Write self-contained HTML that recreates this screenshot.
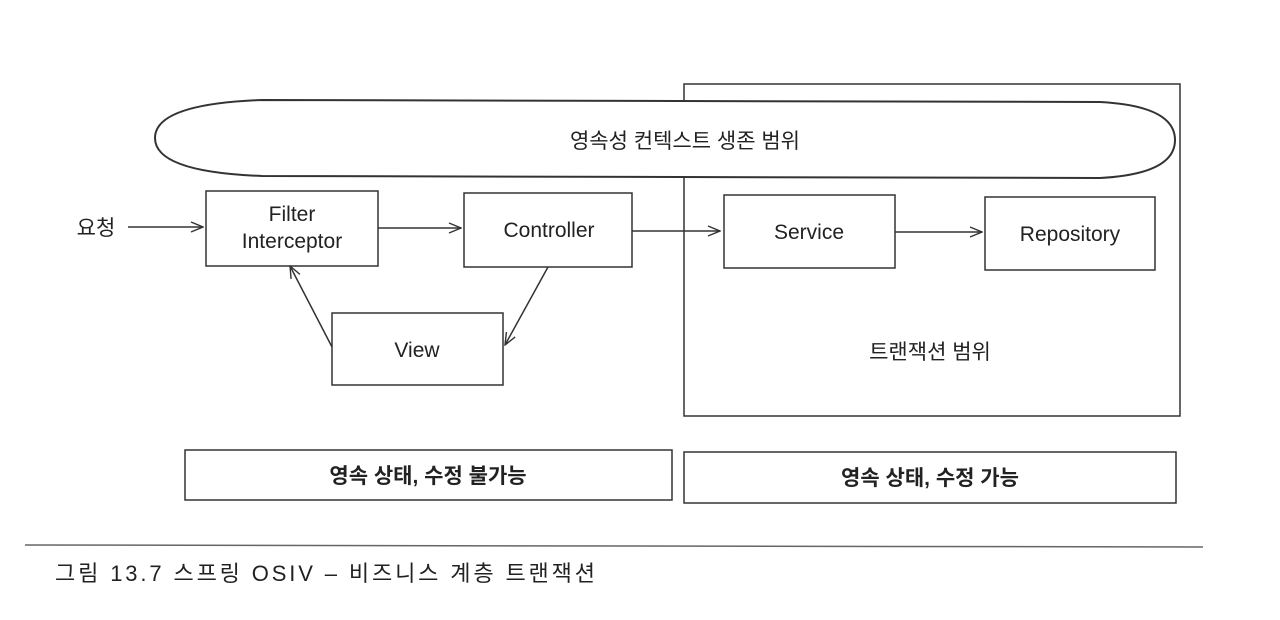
<!DOCTYPE html>
<html><head><meta charset="utf-8"><style>
body{margin:0;background:#fff;}
svg text{font-family:"Liberation Sans","Noto Sans CJK KR",sans-serif;fill:#222;}
</style></head><body>
<svg width="1280" height="615" viewBox="0 0 1280 615" xmlns="http://www.w3.org/2000/svg">
<defs><marker id="a" markerWidth="14" markerHeight="12" refX="13" refY="6" orient="auto" markerUnits="userSpaceOnUse"><path d="M1,1 L13,6 L1,11" fill="none" stroke="#333" stroke-width="1.4"/></marker></defs>
<g stroke="#333" stroke-width="1.5" fill="none">
<rect x="684" y="84" width="496" height="332" fill="#fff"/>
<path d="M262,100 L1100,102 Q1175,106 1175,140 Q1175,174 1100,178 L262,176 Q155,172 155,138 Q155,104 262,100 Z" fill="#fff" stroke-width="2"/>
<rect x="206" y="191" width="172" height="75"/>
<rect x="464" y="193" width="168" height="74"/>
<rect x="724" y="195" width="171" height="73"/>
<rect x="985" y="197" width="170" height="73"/>
<rect x="332" y="313" width="171" height="72"/>
<rect x="185" y="450" width="487" height="50"/>
<rect x="684" y="452" width="492" height="51"/>
<line x1="128" y1="227" x2="203" y2="227" marker-end="url(#a)"/>
<line x1="378" y1="228" x2="461" y2="228" marker-end="url(#a)"/>
<line x1="632" y1="231" x2="720" y2="231" marker-end="url(#a)"/>
<line x1="895" y1="232" x2="982" y2="232" marker-end="url(#a)"/>
<line x1="548" y1="267" x2="505" y2="345" marker-end="url(#a)"/>
<line x1="332" y1="347" x2="290" y2="266" marker-end="url(#a)"/>
<line x1="25" y1="545" x2="1203" y2="547" stroke="#666"/>
</g>
<g font-size="21" text-anchor="middle">
<text x="685" y="148">영속성 컨텍스트 생존 범위</text>
<text x="96" y="235">요청</text>
<text x="292" y="221">Filter</text>
<text x="292" y="248">Interceptor</text>
<text x="549" y="237">Controller</text>
<text x="809" y="239">Service</text>
<text x="1070" y="241">Repository</text>
<text x="417" y="357">View</text>
<text x="930" y="359">트랜잭션 범위</text>
<text x="428" y="483" font-weight="bold" font-size="21">영속 상태, 수정 불가능</text>
<text x="930" y="485" font-weight="bold" font-size="21">영속 상태, 수정 가능</text>
<text x="55" y="581" text-anchor="start" font-size="22" textLength="540" lengthAdjust="spacing">그림 13.7 스프링 OSIV – 비즈니스 계층 트랜잭션</text>
</g>
</svg>
</body></html>
